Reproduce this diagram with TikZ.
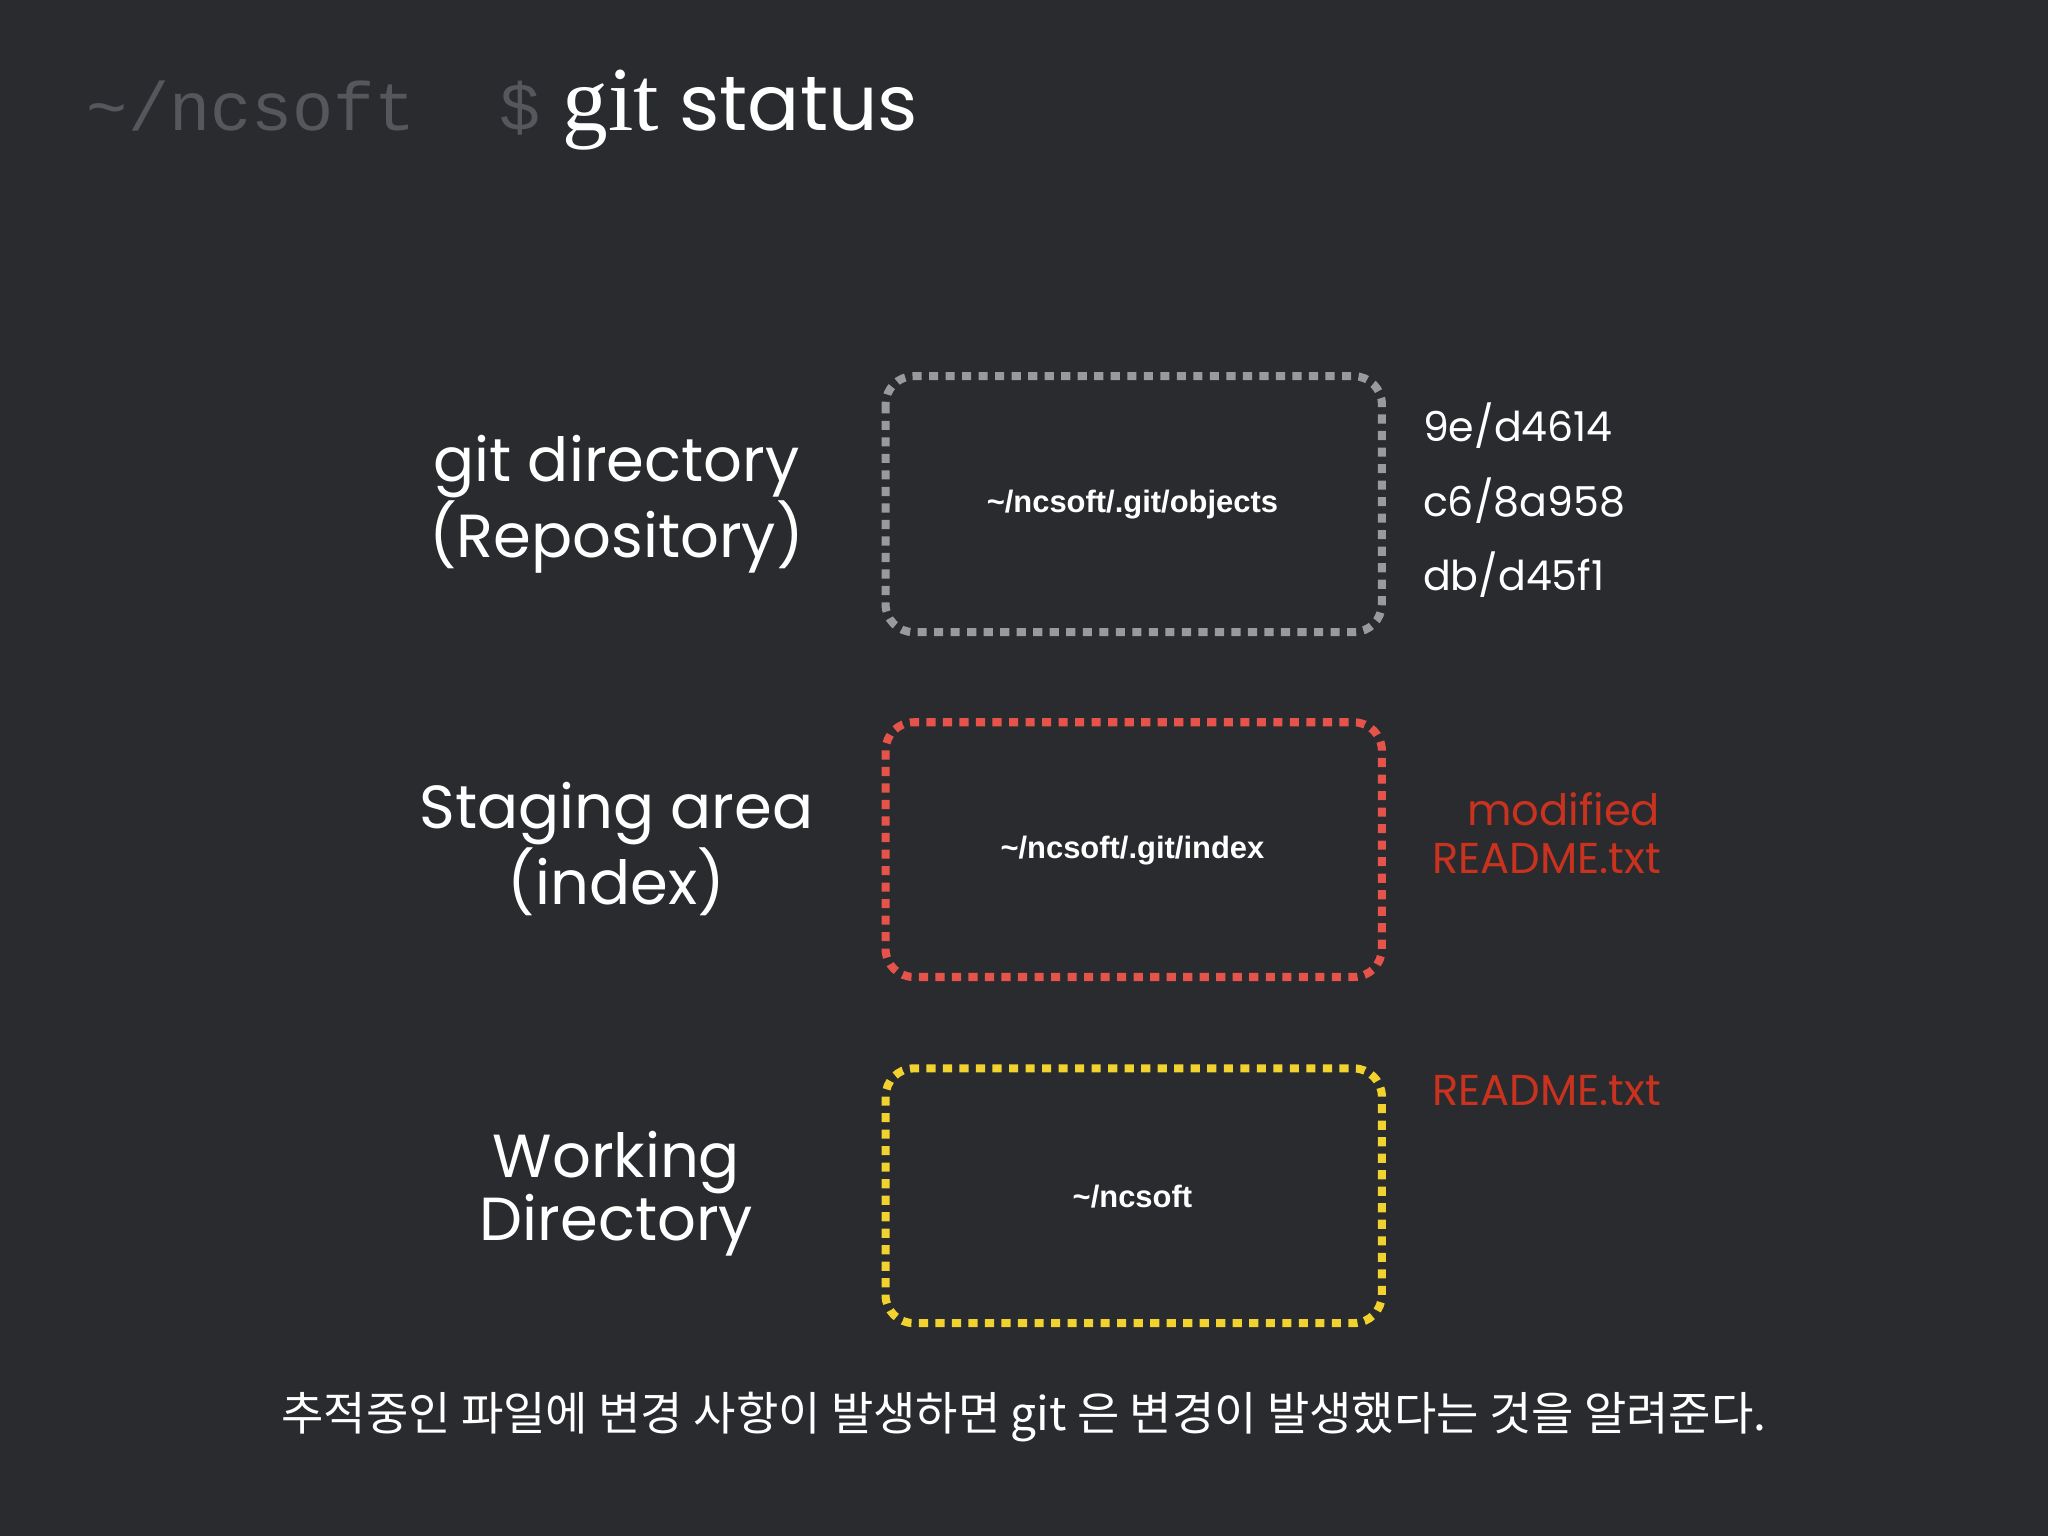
\documentclass[tikz,border=0pt]{standalone}
\usepackage{fontspec}
\setmainfont{Poppins}
\newfontfamily\boxfont{Liberation Sans}
\newfontfamily\monof{Liberation Mono}
\newfontfamily\serf{Liberation Serif}
\newfontfamily\krfont{Noto Sans CJK KR}
\definecolor{bg}{HTML}{2A2B2F}
\definecolor{grayb}{HTML}{9A9A9C}
\definecolor{redb}{HTML}{E5534B}
\definecolor{yelb}{HTML}{F2D22E}
\definecolor{redt}{HTML}{C8321E}
\definecolor{mono}{HTML}{55575C}
\tikzset{
 area/.style={line width=2.3pt,dash pattern=on 2.6pt off 2.1pt,rounded corners=8pt},
 lbl/.style={text=white,align=center,font=\fontsize{17.3}{18}\selectfont},
 inner/.style={text=white,font=\boxfont\bfseries\fontsize{8.8}{10}\selectfont},
 side/.style={text=white,anchor=west,font=\fontsize{11.7}{14}\selectfont},
 redlbl/.style={text=redt,font=\fontsize{12.3}{13.5}\selectfont,align=center}
}
\begin{document}
\begin{tikzpicture}[x=0.01306cm,y=-0.01306cm]
\fill[bg] (0,0) rectangle (1568,1176);
\useasboundingbox (0,0) rectangle (1568,1176);
\node[anchor=base west,text=mono,font=\monof\fontsize{19.5}{24}\selectfont,inner sep=0] (prompt) at (66,100) {\~{}/ncsoft};
\node[anchor=base west,text=mono,font=\monof\fontsize{19.5}{24}\selectfont,inner sep=0] (dollar) at (382,100) {\$};
\node[anchor=base west,text=white,font=\fontsize{22}{24}\selectfont,inner sep=0] (cmd) at (430,100) {{\serf\fontsize{26}{26}\selectfont git} status};
\draw[area,grayb] (678,288) rectangle (1058,484);
\draw[area,redb] (678,553) rectangle (1058,748);
\draw[area,yelb] (678,818) rectangle (1058,1013);
\node[inner] (b1) at (867,386) {\~{}/ncsoft/.git/objects};
\node[inner] (b2) at (867,651) {\~{}/ncsoft/.git/index};
\node[inner] (b3) at (867,916) {\~{}/ncsoft};
\node[lbl] (l1) at (472,386) {git directory\\(Repository)};
\node[lbl] (l2) at (472,650) {Staging area\\(index)};
\node[lbl] (l3) at (472,914) {Working\\Directory};
\node[side] (h1) at (1080,326) {9e/d4614};
\node[side] (h2) at (1080,383) {c6/8a958};
\node[side] (h3) at (1080,440) {db/d45f1};
\node[redlbl] (m1) at (1184,638) {\hspace*{0.8em}modified\\README.txt};
\node[redlbl] (m2) at (1184,835) {README.txt};
\node[text=white,font=\krfont\fontsize{13.1}{15}\selectfont] (kr) at (784,1085) {추적중인 파일에 변경 사항이 발생하면 git 은 변경이 발생했다는 것을 알려준다.};
\end{tikzpicture}
\end{document}
